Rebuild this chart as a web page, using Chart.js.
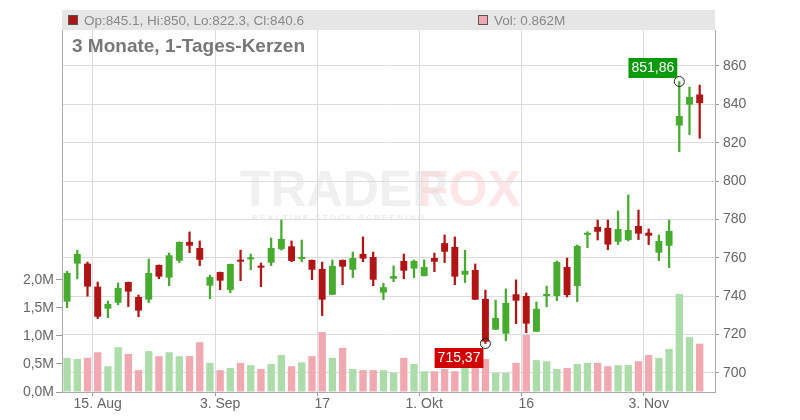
<!DOCTYPE html>
<html><head><meta charset="utf-8">
<script src="https://cdn.jsdelivr.net/npm/chart.js@4"></script>
<style>body{margin:0;background:#fff}#w{width:800px;height:420px}</style>
</head><body><div id="w"><canvas id="c"></canvas></div>
<script>
const opens =[737.2,757,757,745,733.5,736.6,747.4,739.6,738.2,756.3,749.7,758.5,768.3,765.1,745.5,752.6,743.3,758.6,759.2,755.8,757.5,764.5,766,759.4,758.9,754.2,740.8,758.9,753.8,762,760.4,741.9,749.1,758.4,754.4,750.5,759.9,767.7,765.7,751.2,753.7,738.6,722.6,720.5,741,740.1,721.5,740.1,740.1,755.2,745.3,772,776.1,775.6,768.4,769.3,776.6,773.1,762.7,766.3,828.9,839.8,845.1];
const highs =[753,764,757.8,747.4,737.5,746.9,747.4,740.6,759.4,756.3,762.5,768.3,773.5,768.8,751,752.6,756.8,764,762,757.3,770.3,779.7,768.8,769.3,758.9,757.8,758.9,758.9,763,770.9,763,746.7,755.8,762,758.9,758.9,762.5,771.9,770.9,764,756.8,743.2,738,743.8,748.5,741.7,737,745.3,758.4,759.9,766.7,773.6,779.7,779.7,784.4,792.8,784.9,775,771.9,779.7,851.86,849,850];
const lows  =[734,749,740,728.3,728.8,735.6,734.6,729.3,736.6,749.1,745.5,757.5,762.7,755.9,738.7,743.4,741.8,748.1,753.8,745,755.9,764,758,758,748.6,729.9,740.8,746,749.7,758,745.5,738.2,747.6,749.1,749.7,750.5,752.8,757.5,746,747.1,738.2,715.37,722.6,716.8,725.7,721,721.5,734.5,737.7,739.6,737.2,765.3,769.3,764.3,766.9,768.8,769.5,766.9,758.5,754.9,815.3,824.2,822.3];
const closes=[752.1,762,745,729.3,736,744.3,742.4,732.5,752.1,750.2,761.3,768.3,766.3,759,750,748.1,756.8,758,760,754.9,765.1,769.8,758.4,759.8,753.8,738.2,755.8,755.4,759.9,759.6,748.6,744.7,750.5,753.3,758.4,755.2,758,763.2,750.2,753.2,738.2,716.3,728.7,736.5,737.7,725.7,733.4,740.3,757.8,740.6,766.2,772.2,773.6,766.9,775,774.5,772.6,771.5,768.8,774,833.9,843.8,840.6];
const volumes=[0.61,0.59,0.61,0.71,0.46,0.80,0.68,0.39,0.73,0.64,0.71,0.64,0.64,0.89,0.52,0.39,0.43,0.52,0.48,0.41,0.50,0.66,0.46,0.53,0.64,1.07,0.61,0.79,0.41,0.39,0.39,0.39,0.34,0.61,0.50,0.37,0.37,0.41,0.37,0.43,0.59,0.59,0.34,0.34,0.52,1.02,0.57,0.55,0.41,0.43,0.50,0.52,0.52,0.46,0.48,0.48,0.55,0.66,0.61,0.77,1.75,0.98,0.862];
const tickLabels={3:"15. Aug",15:"3. Sep",25:"17",35:"1. Okt",45:"16",57:"3. Nov"};
const priceTicks=[700,720,740,760,780,800,820,840,860];
const volTicks=[0,0.5,1,1.5,2];

const labels=opens.map((_,i)=>String(i)).concat(['']);
const up=opens.map((o,i)=>closes[i]>=o);
const G='#46ab2e',R='#b01515';
const plug={id:'deco',
 beforeDraw(ch){const c=ch.ctx,a=ch.chartArea;c.save();
  c.fillStyle='#e6e6e6';c.fillRect(a.left,10,a.right-a.left,20);
  c.font='bold 50px "Liberation Sans",Arial';c.textBaseline='middle';
  c.fillStyle='rgba(225,225,225,0.5)';c.fillText('TRADER',240,192);
  c.fillStyle='rgba(252,205,210,0.5)';c.fillText('FOX',418,192);
  c.font='bold 8px "Liberation Sans"';c.fillStyle='rgba(220,220,220,0.6)';
  c.fillText('R E A L T I M E   S T O C K   S C R E E N I N G',252,218);
  c.restore();},
 afterDraw(ch){const c=ch.ctx,x=ch.scales.x,y=ch.scales.y;c.save();
  c.textBaseline='middle';c.font='13.5px "Liberation Sans",Arial';
  c.fillStyle=R;c.fillRect(68,15,10,10);c.strokeStyle='#555';c.strokeRect(68.5,15.5,9,9);
  c.fillStyle='#888';c.fillText('Op:845.1, Hi:850, Lo:822.3, Cl:840.6',84,21);
  c.fillStyle='#f0a8b0';c.fillRect(478,15,10,10);c.strokeRect(478.5,15.5,9,9);
  c.fillStyle='#888';c.fillText('Vol: 0.862M',494,21);
  c.font='bold 19px "Liberation Sans",Arial';c.fillStyle='#777';c.fillText('3 Monate, 1-Tages-Kerzen',72,47);
  const hi=60,lo=41;
  const mk=(i,v,col,txt,ly)=>{const px=x.getPixelForValue(i),py=y.getPixelForValue(v);
   c.beginPath();c.arc(px,py,5,0,Math.PI*2);c.strokeStyle='#222';c.lineWidth=1;c.stroke();
   c.font='14px "Liberation Sans",Arial';const w=c.measureText(txt).width+6;
   const lx=px-w-2;
   c.fillStyle=col;c.fillRect(lx,ly,w,20);c.fillStyle='#fff';c.fillText(txt,lx+3,ly+10);};
  mk(hi,highs[hi],'#0a9a0a','851,86',58);
  mk(lo,lows[lo],'#d00000','715,37',348);
  c.restore();}};
new Chart(document.getElementById('c'),{
 data:{labels,datasets:[
  {type:'bar',yAxisID:'yv',data:volumes,backgroundColor:up.map(u=>u?'#addcab':'#f0a8b1'),barPercentage:0.72,categoryPercentage:1,grouped:false,order:3},
  {type:'bar',yAxisID:'y',data:opens.map((_,i)=>[lows[i],highs[i]]),backgroundColor:up.map(u=>u?G:R),barThickness:1.6,grouped:false,order:2},
  {type:'bar',yAxisID:'y',data:opens.map((_,i)=>[opens[i],closes[i]]),backgroundColor:up.map(u=>u?G:R),barPercentage:0.68,categoryPercentage:1,minBarLength:2,grouped:false,order:1}
 ]},
 options:{responsive:true,maintainAspectRatio:false,animation:false,
  layout:{padding:{top:30}},
  plugins:{legend:{display:false},tooltip:{enabled:false}},
  scales:{
   x:{grid:{color:ctx=>tickLabels[ctx.index]!==undefined?'#dcdcdc':'transparent',drawTicks:true,tickLength:4,tickColor:ctx=>tickLabels[ctx.index]!==undefined?'#999':'transparent'},border:{color:'#aaa'},
      ticks:{autoSkip:false,maxRotation:0,color:'#666',font:{size:14,family:'"Liberation Sans",Arial'},padding:0,callback:(v,i)=>tickLabels[i]||''},afterFit:s=>{s.height=28}},
   y:{position:'right',min:690.1,max:878.7,afterBuildTicks:s=>{s.ticks=priceTicks.map(v=>({value:v}))},
      grid:{color:'#dcdcdc',tickLength:4,tickColor:'#999'},border:{color:'#aaa'},
      ticks:{color:'#666',font:{size:14,family:'"Liberation Sans",Arial'},padding:4},afterFit:s=>{s.width=85}},
   yv:{position:'left',min:0,max:6.464,afterBuildTicks:s=>{s.ticks=volTicks.map(v=>({value:v}))},
      grid:{drawOnChartArea:false,tickLength:6,tickColor:'#999'},border:{color:'#aaa'},
      ticks:{color:'#666',font:{size:14,family:'"Liberation Sans",Arial'},padding:2,callback:v=>v.toFixed(1).replace('.',',')+'M'},afterFit:s=>{s.width=62}}
  }}, plugins:[plug]});
</script></body></html>
